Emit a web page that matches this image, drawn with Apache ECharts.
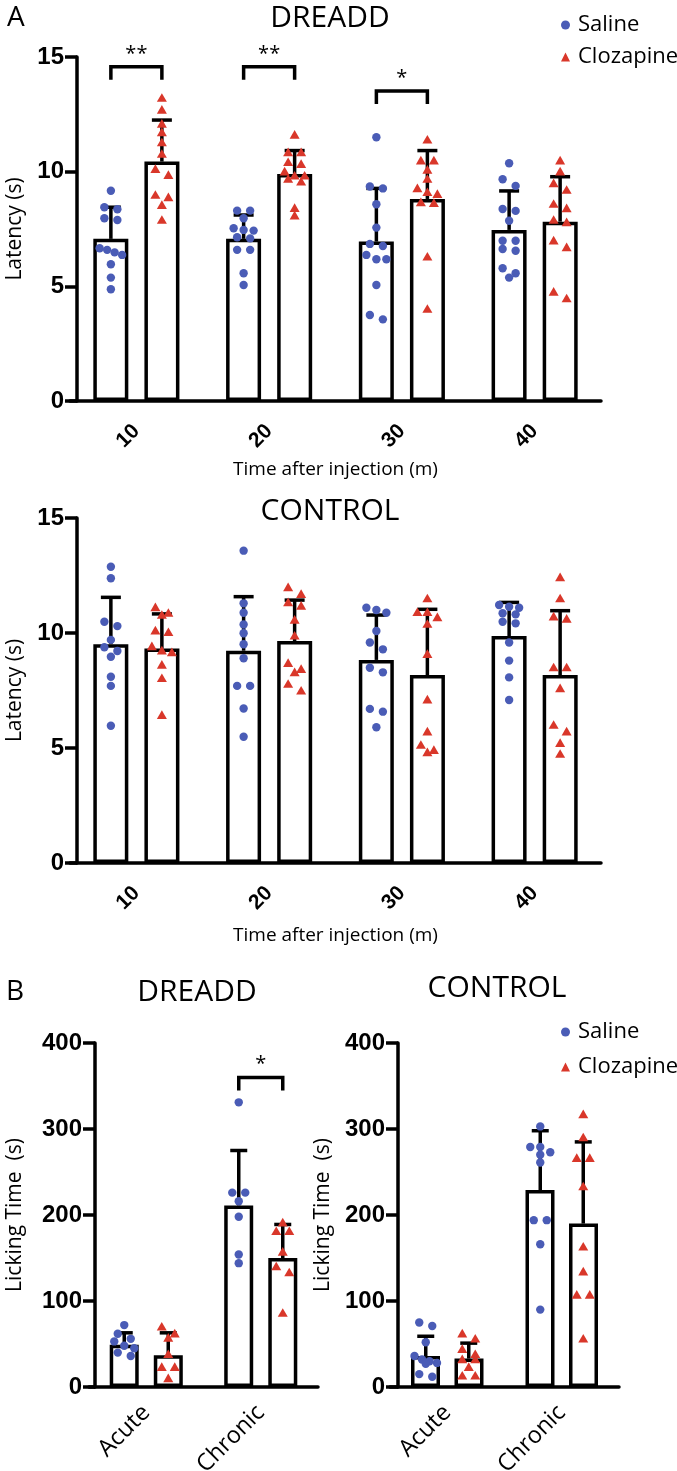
<!DOCTYPE html>
<html><head><meta charset="utf-8">
<script src="https://cdn.jsdelivr.net/npm/echarts@6/dist/echarts.min.js"></script>
<style>html,body{margin:0;padding:0;background:#fff}#c{width:677px;height:1471px}</style>
</head><body><div id="c"></div>
<script>
// ---------- categories & ticks ----------
const timeCategories = ['10', '20', '30', '40'];
const phaseCategories = ['Acute', 'Chronic'];
const latencyTicks = [0, 5, 10, 15];
const lickTicks = [0, 100, 200, 300, 400];

// ---------- Panel A : DREADD latency ----------
const dreaddSalineMean = [7.07, 7.07, 6.95, 7.46];
const dreaddSalineSD = [1.38, 1.04, 2.32, 1.70];
const dreaddClozMean = [10.44, 9.90, 8.81, 7.82];
const dreaddClozSD = [1.81, 1.02, 2.11, 1.96];
const dreaddSalinePts = [
  [9.17, 8.45, 8.36, 7.97, 7.89, 6.66, 6.59, 6.48, 6.37, 5.96, 5.38, 4.87],
  [8.30, 8.30, 7.97, 7.53, 7.46, 7.43, 7.14, 7.09, 6.59, 6.59, 5.57, 5.06],
  [11.50, 9.35, 9.27, 8.58, 7.56, 6.85, 6.76, 6.37, 6.18, 6.18, 5.06, 3.75, 3.56],
  [10.37, 9.67, 9.38, 8.37, 8.29, 7.86, 6.99, 6.99, 6.63, 6.55, 5.79, 5.57, 5.38]
];
const dreaddClozPts = [
  [13.17, 12.65, 12.04, 11.67, 11.23, 10.73, 10.07, 9.81, 8.94, 8.84, 8.50, 7.85],
  [11.56, 10.80, 10.80, 10.37, 10.29, 9.96, 9.78, 9.78, 9.64, 9.52, 8.37, 8.04],
  [11.35, 10.44, 10.44, 10.04, 9.64, 9.23, 9.06, 8.98, 8.62, 8.59, 6.25, 3.97],
  [10.44, 9.96, 9.45, 9.16, 8.55, 8.36, 7.85, 7.75, 6.95, 6.66, 4.72, 4.43]
];
const dreaddSigGroups = [0, 1, 2];
const dreaddSigLevels = [14.57, 14.57, 13.52];
const dreaddSigLabels = ['**', '**', '*'];

// ---------- Panel A : CONTROL latency ----------
const controlSalineMean = [9.51, 9.23, 8.83, 9.87];
const controlSalineSD = [2.04, 2.35, 1.95, 1.46];
const controlClozMean = [9.33, 9.65, 8.17, 8.17];
const controlClozSD = [1.50, 1.78, 2.86, 2.80];
const controlSalinePts = [
  [12.88, 12.38, 10.49, 10.30, 9.70, 9.38, 9.22, 8.97, 8.10, 7.70, 5.97],
  [13.58, 11.29, 10.88, 10.37, 9.99, 9.51, 8.90, 7.70, 7.70, 6.72, 5.49],
  [11.10, 11.00, 10.88, 10.09, 9.59, 9.29, 8.49, 8.29, 6.70, 6.58, 5.90],
  [11.22, 11.14, 11.10, 10.86, 10.81, 10.49, 10.42, 9.59, 8.80, 8.07, 7.09]
];
const controlClozPts = [
  [11.07, 10.83, 10.74, 10.06, 9.99, 9.38, 9.19, 9.12, 8.57, 7.99, 6.39],
  [11.94, 11.65, 11.29, 11.14, 10.53, 9.84, 8.65, 8.39, 8.25, 7.74, 7.45],
  [11.46, 10.86, 10.86, 10.64, 10.35, 9.04, 7.06, 5.67, 5.09, 4.87, 4.77],
  [12.38, 11.46, 10.67, 10.57, 8.46, 8.46, 7.55, 5.96, 5.67, 5.17, 4.70]
];

// ---------- Panel B : DREADD licking ----------
const lickDreaddSalineMean = [49, 211];
const lickDreaddSalineSD = [14, 64];
const lickDreaddClozMean = [37, 150];
const lickDreaddClozSD = [26, 39];
const lickDreaddSalinePts = [
  [72, 62, 56, 53, 48, 45, 40, 36],
  [331, 226, 226, 216, 198, 154, 144]
];
const lickDreaddClozPts = [
  [69, 61, 56, 37, 22, 22, 9],
  [190, 180, 180, 156, 139, 132, 85]
];
const lickDreaddSigGroups = [1];
const lickDreaddSigLevels = [360];
const lickDreaddSigLabels = ['*'];

// ---------- Panel B : CONTROL licking ----------
const lickControlSalineMean = [36, 229];
const lickControlSalineSD = [23, 69];
const lickControlClozMean = [33, 190];
const lickControlClozSD = [18, 95];
const lickControlSalinePts = [
  [75, 71, 52, 36, 32, 30, 28, 27, 15, 12],
  [303, 279, 279, 273, 270, 261, 194, 194, 166, 90]
];
const lickControlClozPts = [
  [61, 55, 43, 37, 31, 31, 22, 12, 12],
  [316, 289, 265, 265, 232, 162, 133, 106, 106, 55]
];

// ---------- styling ----------
const BLUE = '#4a5cb6', RED = '#d9372a';
const REG = '"Open Sans", "DejaVu Sans", sans-serif';
const BOLD = '"Liberation Sans", Arial, sans-serif';
const LW = 3.5;

function swarm(vals, ppu) {
  const order = vals.map((v, i) => i).sort((a, b) => vals[b] - vals[a]);
  const off = vals.map(() => 0);
  const SP = [0, 0, 13, 10, 7.5, 7];
  let row = [], top = 0;
  const flush = () => {
    const k = row.length, s = SP[k] || 6.5;
    row.forEach((j, r) => { off[j] = (r - (k - 1) / 2) * s; });
    row = [];
  };
  order.forEach(j => {
    if (row.length && (top - vals[j]) * ppu > 7) flush();
    if (!row.length) top = vals[j];
    row.push(j);
  });
  flush();
  return off;
}

const panels = [
  { grid: { left: 70, top: 57, width: 531, height: 344 }, cats: timeCategories, ticks: latencyTicks, yOff: -7,
    sMean: dreaddSalineMean, sSD: dreaddSalineSD, sPts: dreaddSalinePts,
    cMean: dreaddClozMean, cSD: dreaddClozSD, cPts: dreaddClozPts,
    barW: 35, gap: '46%', off: 25.5, cap: 20, boldX: true, xSize: 21, xMargin: 27,
    xName: 'Time after injection (m)', xNameGap: 59, yName: 'Latency (s)', yNameGap: 51,
    sig: [dreaddSigGroups, dreaddSigLevels, dreaddSigLabels] },
  { grid: { left: 70, top: 518, width: 531, height: 345 }, cats: timeCategories, ticks: latencyTicks, yOff: -7,
    sMean: controlSalineMean, sSD: controlSalineSD, sPts: controlSalinePts,
    cMean: controlClozMean, cSD: controlClozSD, cPts: controlClozPts,
    barW: 35, gap: '46%', off: 25.5, cap: 20, boldX: true, xSize: 21, xMargin: 27,
    xName: 'Time after injection (m)', xNameGap: 63, yName: 'Latency (s)', yNameGap: 51, sig: null },
  { grid: { left: 89, top: 1043, width: 229, height: 344 }, cats: phaseCategories, ticks: lickTicks, yOff: -6,
    sMean: lickDreaddSalineMean, sSD: lickDreaddSalineSD, sPts: lickDreaddSalinePts,
    cMean: lickDreaddClozMean, cSD: lickDreaddClozSD, cPts: lickDreaddClozPts,
    barW: 29, gap: '52%', off: 22, cap: 17, boldX: false, xSize: 23.5, xMargin: 22,
    xName: '', xNameGap: 0, yName: 'Licking Time  (s)', yNameGap: 69,
    sig: [lickDreaddSigGroups, lickDreaddSigLevels, lickDreaddSigLabels] },
  { grid: { left: 390, top: 1043, width: 229, height: 344 }, cats: phaseCategories, ticks: lickTicks, yOff: -8,
    sMean: lickControlSalineMean, sSD: lickControlSalineSD, sPts: lickControlSalinePts,
    cMean: lickControlClozMean, cSD: lickControlClozSD, cPts: lickControlClozPts,
    barW: 29, gap: '50%', off: 21.5, cap: 17, boldX: false, xSize: 23.5, xMargin: 22,
    xName: '', xNameGap: 0, yName: 'Licking Time  (s)', yNameGap: 64, sig: null }
];

const grids = [], xAxes = [], yAxes = [], series = [];
const axisLineStyle = { color: '#000', width: LW };

function errorSeries(gi, means, sds, off, cap) {
  return {
    type: 'custom', xAxisIndex: gi, yAxisIndex: gi, z: 4, silent: true,
    data: means.map((m, i) => [i, m, m + sds[i]]),
    renderItem(params, api) {
      const lo = api.coord([api.value(0), api.value(1)]);
      const hi = api.coord([api.value(0), api.value(2)]);
      const x = lo[0] + off;
      return { type: 'group', children: [
        { type: 'line', shape: { x1: x, y1: lo[1], x2: x, y2: hi[1] }, style: { stroke: '#000', lineWidth: LW } },
        { type: 'line', shape: { x1: x - cap / 2, y1: hi[1], x2: x + cap / 2, y2: hi[1] }, style: { stroke: '#000', lineWidth: LW } }
      ] };
    }
  };
}

function pointsSeries(gi, name, pts, off, ppu, shape, color) {
  const data = [];
  pts.forEach((vals, ci) => {
    const o = swarm(vals, ppu);
    vals.forEach((v, k) => data.push([ci, v, o[k]]));
  });
  return {
    type: 'custom', name, xAxisIndex: gi, yAxisIndex: gi, z: 5, silent: true,
    itemStyle: { color }, data,
    renderItem(params, api) {
      const p = api.coord([api.value(0), api.value(1)]);
      const x = p[0] + off + api.value(2), y = p[1];
      if (shape === 'circle') return { type: 'circle', shape: { cx: x, cy: y, r: 4.2 }, style: { fill: color } };
      const s = 10, h = s * 0.866;
      return { type: 'polygon', shape: { points: [[x, y - h * 2 / 3], [x + s / 2, y + h / 3], [x - s / 2, y + h / 3]] }, style: { fill: color } };
    }
  };
}

function sigSeries(gi, sig, off) {
  const [groups, levels, labels] = sig;
  return {
    type: 'custom', xAxisIndex: gi, yAxisIndex: gi, z: 6, silent: true,
    data: groups.map((g, i) => [g, levels[i]]),
    renderItem(params, api) {
      const c = api.coord([api.value(0), api.value(1)]);
      const x1 = c[0] - off, x2 = c[0] + off, y = c[1], leg = 13;
      return { type: 'group', children: [
        { type: 'polyline', shape: { points: [[x1, y + leg], [x1, y], [x2, y], [x2, y + leg]] },
          style: { stroke: '#000', lineWidth: LW, fill: null } },
        { type: 'text', x: c[0], y: y - 13,
          style: { text: labels[params.dataIndex], align: 'center', verticalAlign: 'middle', font: '20px ' + REG, fill: '#000' } }
      ] };
    }
  };
}

panels.forEach((p, gi) => {
  grids.push(Object.assign({ containLabel: false, outerBoundsMode: 'none' }, p.grid));
  xAxes.push({
    gridIndex: gi, type: 'category', data: p.cats,
    axisLine: { lineStyle: axisLineStyle },
    axisTick: { alignWithLabel: true, length: 13, lineStyle: axisLineStyle },
    axisLabel: { rotate: 45, margin: p.xMargin, color: '#000', fontSize: p.xSize,
      fontWeight: p.boldX ? 'bold' : 'normal', fontFamily: p.boldX ? BOLD : REG },
    name: p.xName, nameLocation: 'middle', nameGap: p.xNameGap,
    nameTextStyle: { fontFamily: REG, fontSize: 19, color: '#000' }
  });
  yAxes.push({
    gridIndex: gi, type: 'value', min: p.ticks[0], max: p.ticks[p.ticks.length - 1],
    interval: p.ticks[1] - p.ticks[0], offset: p.yOff,
    splitLine: { show: false },
    axisLine: { show: true, lineStyle: axisLineStyle },
    axisTick: { show: true, length: 12, lineStyle: axisLineStyle },
    axisLabel: { margin: 13, fontSize: 24, fontWeight: 'bold', fontFamily: BOLD, color: '#000' },
    name: p.yName, nameLocation: 'middle', nameGap: p.yNameGap,
    nameTextStyle: { fontFamily: REG, fontSize: 21, color: '#000' }
  });
  const ppu = p.grid.height / (p.ticks[p.ticks.length - 1] - p.ticks[0]);
  const barStyle = { color: '#fff', borderColor: '#000', borderWidth: LW };
  series.push({ type: 'bar', name: 'salineBar' + gi, xAxisIndex: gi, yAxisIndex: gi, data: p.sMean,
    barWidth: p.barW, barGap: p.gap, itemStyle: barStyle, z: 2, silent: true });
  series.push({ type: 'bar', name: 'clozBar' + gi, xAxisIndex: gi, yAxisIndex: gi, data: p.cMean,
    barWidth: p.barW, barGap: p.gap, itemStyle: barStyle, z: 2, silent: true });
  series.push(errorSeries(gi, p.sMean, p.sSD, -p.off, p.cap));
  series.push(errorSeries(gi, p.cMean, p.cSD, p.off, p.cap));
  series.push(pointsSeries(gi, 'Saline', p.sPts, -p.off, ppu, 'circle', BLUE));
  series.push(pointsSeries(gi, 'Clozapine', p.cPts, p.off, ppu, 'triangle', RED));
  if (p.sig) series.push(sigSeries(gi, p.sig, p.off));
});

function label(text, x, y, size, align) {
  return { type: 'text', x, y, style: { text, font: size + 'px ' + REG, fill: '#000', align: align || 'center', verticalAlign: 'middle' } };
}

const legendCommon = {
  orient: 'vertical', itemWidth: 9, itemHeight: 9, selectedMode: false,
  textStyle: { fontFamily: REG, fontSize: 22, color: '#000', lineHeight: 22, padding: [0, 0, 0, 3] },
  data: [{ name: 'Saline', icon: 'circle' }, { name: 'Clozapine', icon: 'triangle' }]
};

const chart = echarts.init(document.getElementById('c'));
chart.setOption({
  animation: false,
  backgroundColor: '#fff',
  grid: grids, xAxis: xAxes, yAxis: yAxes, series,
  legend: [
    Object.assign({}, legendCommon, { left: 556, top: 9, itemGap: 10 }),
    Object.assign({}, legendCommon, { left: 556, top: 1016, itemGap: 13 })
  ],
  graphic: [
    label('A', 7, 18, 28, 'left'),
    label('DREADD', 330, 18, 30),
    label('CONTROL', 330, 511, 30),
    label('B', 6, 992, 28, 'left'),
    label('DREADD', 197, 992, 30),
    label('CONTROL', 497, 988, 30)
  ]
});
</script>
</body></html>
